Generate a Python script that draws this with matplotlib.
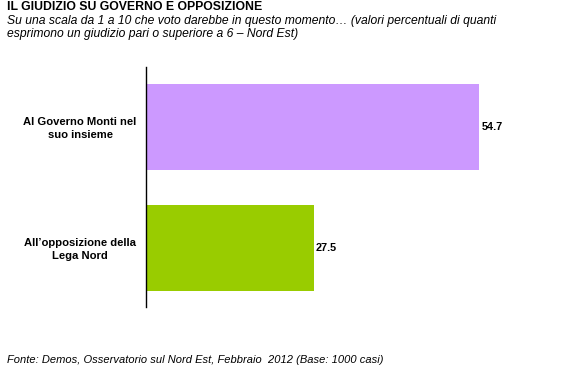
import matplotlib
matplotlib.use("Agg")
import matplotlib.pyplot as plt

plt.rcParams['font.family'] = ['Liberation Sans', 'DejaVu Sans']

categories = ['Al Governo Monti nel\nsuo insieme', "All\u2019opposizione della\nLega Nord"]
values = [54.7, 27.5]
colors = ['#CC99FF', '#99CC00']

title = 'IL GIUDIZIO SU GOVERNO E OPPOSIZIONE'
subtitle = ('Su una scala da 1 a 10 che voto darebbe in questo momento\u2026 (valori percentuali di quanti\n'
            'esprimono un giudizio pari o superiore a 6 \u2013 Nord Est)')
source = 'Fonte: Demos, Osservatorio sul Nord Est, Febbraio  2012 (Base: 1000 casi)'

W, H = 565, 373
fig = plt.figure(figsize=(W / 100, H / 100), dpi=100)
# axes: left 146px, right 548px, top 67px, bottom 307px
ax = fig.add_axes([146 / W, 1 - 307 / H, (548 - 146) / W, (307 - 67) / H])

pos = list(range(len(values)))
ax.barh(pos, values, height=0.71, color=colors)
ax.set_xlim(0, 66)
ax.set_ylim(1.49, -0.5)

for p, v in zip(pos, values):
    ax.text(v + 0.4, p, f'{v}', va='center', ha='left', fontsize=7.8, fontweight='bold')

for p, c in zip(pos, categories):
    ax.text(80 / W, 1 - (128.5 + p * 121) / H, c, transform=fig.transFigure,
            ha='center', va='center', fontsize=8.1, fontweight='bold', linespacing=1.3)

for s in ['top', 'right', 'bottom']:
    ax.spines[s].set_visible(False)
ax.spines['left'].set_linewidth(1)
ax.set_xticks([])
ax.set_yticks([])

fig.text(7 / W, 1 - 7.5 / H, title, ha='left', va='center', fontsize=8.8, fontweight='bold')
fig.text(7 / W, 1 - 27.5 / H, subtitle, ha='left', va='center', fontsize=8.7, style='italic', linespacing=1.15)
fig.text(7 / W, 1 - 360 / H, source, ha='left', va='center', fontsize=8, style='italic')

fig.savefig('out.png', dpi=100)
